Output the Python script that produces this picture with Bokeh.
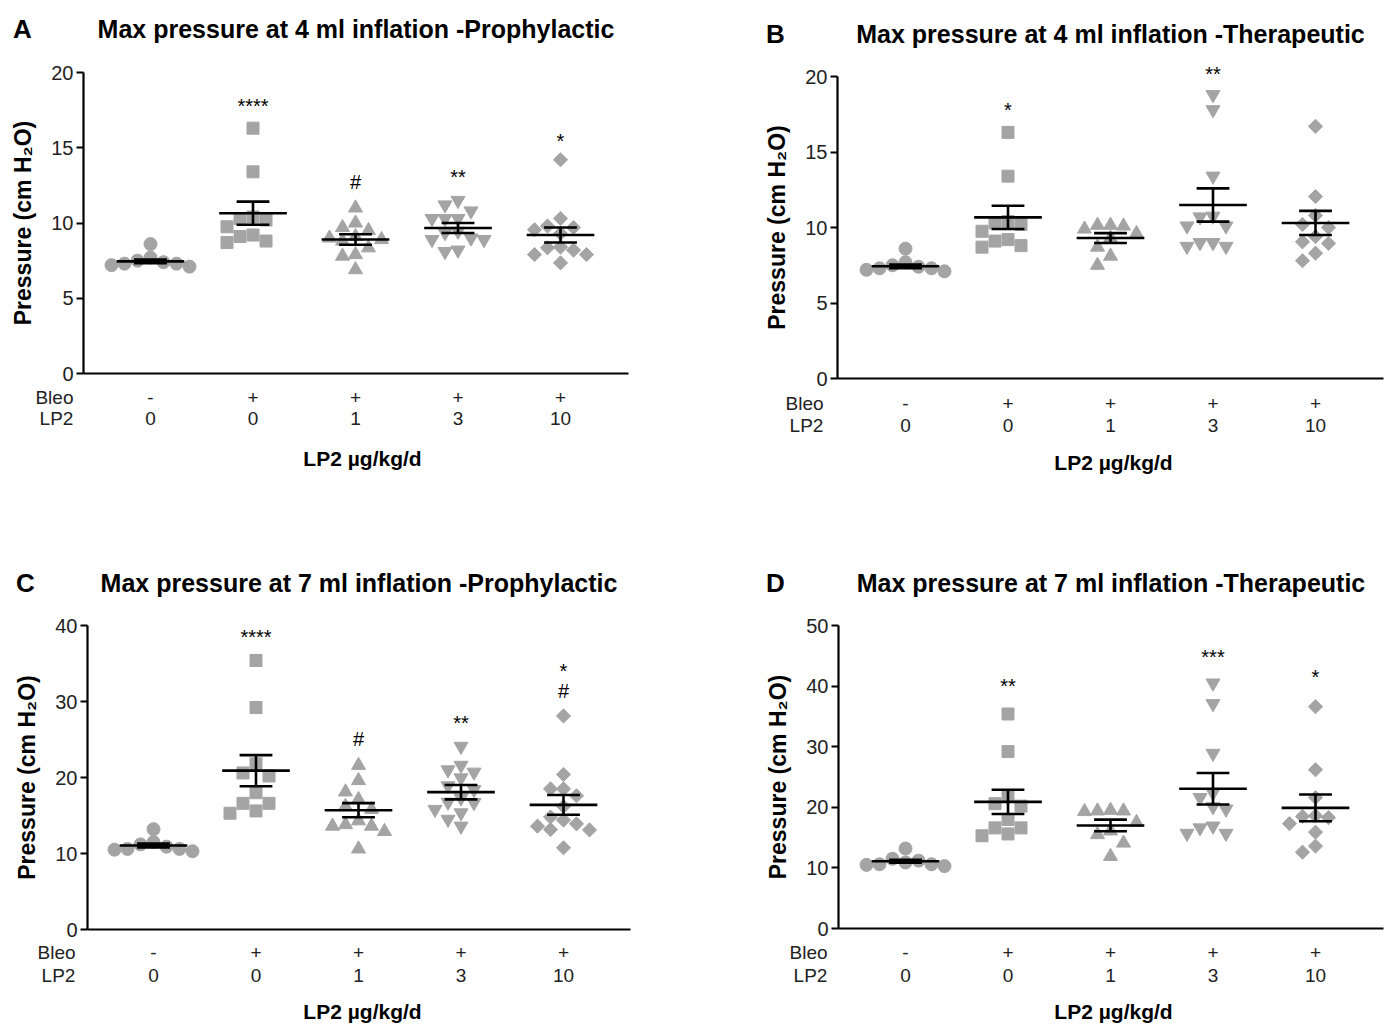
import math
from bokeh.plotting import figure
from bokeh.models import Range1d, FixedTicker, LinearAxis
from bokeh.layouts import gridplot
from bokeh.embed import file_html
from bokeh.resources import INLINE
from bokeh.core.properties import value

FONT = "Liberation Sans"
GREY = "#a4a4a4"
INK = "#222222"

# ---------------- data ----------------
bleo_row = ["-", "+", "+", "+", "+"]
lp2_row = ["0", "0", "1", "3", "10"]
row_names = ["Bleo", "LP2"]
y_label = "Pressure (cm H\u2082O)"
x_label = "LP2 \u00b5g/kg/d"

# Panel A: 4 ml, prophylactic
A_title = "Max pressure at 4 ml inflation -Prophylactic"
A_ctrl = [7.3, 7.7, 7.2, 7.5, 7.1, 7.4, 7.3, 8.6]
A_bleo = [16.3, 13.4, 10.3, 10.4, 10.2, 9.75, 9.1, 8.8, 9.2, 8.7]
A_lp2_1 = [11.0, 10.0, 9.7, 9.5, 9.1, 8.9, 8.8, 8.35, 7.9, 7.8, 6.9, 9.0]
A_lp2_3 = [11.5, 11.2, 10.8, 10.3, 10.3, 10.3, 9.45, 9.35, 9.0, 8.9, 8.9, 8.2, 8.1]
A_lp2_10 = [14.2, 10.3, 9.55, 9.8, 9.7, 8.4, 8.2, 7.9, 7.9, 8.35, 7.35, 9.3]
A_mean = [7.45, 10.65, 8.9, 9.67, 9.2]
A_sem = [0.12, 0.77, 0.35, 0.33, 0.5]
A_yticks = [0, 5, 10, 15, 20]
A_sig_group = [1, 2, 3, 4]
A_sig_text = ["****", "#", "**", "*"]
A_sig_y = [17.9, 12.7, 13.2, 15.6]

# Panel B: 4 ml, therapeutic
B_title = "Max pressure at 4 ml inflation -Therapeutic"
B_ctrl = [7.3, 7.7, 7.2, 7.5, 7.1, 7.4, 7.3, 8.6]
B_bleo = [16.3, 13.4, 10.3, 10.4, 10.2, 9.75, 9.1, 8.8, 9.2, 8.7]
B_lp2_1 = [10.15, 10.1, 10.15, 9.9, 9.6, 9.3, 8.7, 8.1, 7.5]
B_lp2_3 = [18.8, 17.8, 13.4, 10.7, 10.1, 10.1, 10.75, 8.75, 9.0, 8.75, 9.0]
B_lp2_10 = [16.7, 12.05, 10.8, 10.0, 9.4, 9.05, 8.95, 8.3, 7.8, 10.2]
B_mean = [7.43, 10.67, 9.3, 11.49, 10.3]
B_sem = [0.12, 0.77, 0.33, 1.1, 0.8]
B_yticks = [0, 5, 10, 15, 20]
B_sig_group = [1, 3]
B_sig_text = ["*", "**"]
B_sig_y = [17.9, 20.3]

# Panel C: 7 ml, prophylactic
C_title = "Max pressure at 7 ml inflation -Prophylactic"
C_ctrl = [10.6, 11.5, 10.5, 11.2, 10.3, 10.9, 10.6, 13.2]
C_bleo = [35.4, 29.2, 21.8, 20.2, 20.6, 18.0, 15.3, 16.6, 15.6, 16.6]
C_lp2_1 = [21.6, 19.6, 18.1, 17.1, 15.8, 14.3, 13.6, 13.8, 13.6, 12.9, 10.6, 16.2]
C_lp2_3 = [24.1, 21.0, 21.6, 20.7, 19.95, 17.3, 16.75, 16.7, 15.35, 15.8, 13.6, 14.5, 18.4, 18.9]
C_lp2_10 = [28.1, 20.4, 18.5, 18.5, 17.6, 16.2, 13.9, 13.6, 13.1, 13.15, 14.4, 10.75, 14.8]
C_mean = [11.05, 20.9, 15.7, 18.07, 16.4]
C_sem = [0.25, 2.05, 0.93, 0.95, 1.3]
C_yticks = [0, 10, 20, 30, 40]
C_sig_group = [1, 2, 3, 4, 4]
C_sig_text = ["****", "#", "**", "*", "#"]
C_sig_y = [38.8, 25.1, 27.4, 34.3, 31.4]

# Panel D: 7 ml, therapeutic
D_title = "Max pressure at 7 ml inflation -Therapeutic"
D_ctrl = [10.6, 11.5, 10.5, 11.2, 10.3, 10.9, 10.6, 13.2]
D_bleo = [35.4, 29.2, 21.8, 20.2, 20.6, 18.0, 15.3, 16.6, 15.6, 16.6]
D_lp2_1 = [19.4, 19.5, 19.3, 19.4, 17.5, 15.5, 14.1, 11.9, 16.1]
D_lp2_3 = [40.5, 37.1, 28.9, 22.4, 20.1, 19.7, 21.6, 15.7, 16.9, 15.7, 16.6]
D_lp2_10 = [36.6, 26.2, 21.6, 17.3, 15.9, 18.5, 18.6, 18.3, 12.6, 13.6]
D_mean = [11.1, 20.9, 17.0, 23.05, 19.9]
D_sem = [0.25, 2.0, 0.96, 2.6, 2.2]
D_yticks = [0, 10, 20, 30, 40, 50]
D_sig_group = [1, 3, 4]
D_sig_text = ["**", "***", "*"]
D_sig_y = [40.4, 45.1, 41.8]

# ---------------- layout (page pixel positions) ----------------
STEP = 102.5   # px between categories
# fl/fr: x-axis ends, ft/fb: y of top tick / of zero
# r1/r2/lab: centres of the Bleo row, LP2 row and the x-axis title; lc: x of that title
LAYOUT = {
    "A": dict(ox=0, oy=0, w=700, h=553, fl=83, fr=628, ft=72, fb=373, c0=150,
              tc=28, lx=22, ly=28, bx=54, px=56, r1=397, r2=418, lab=458, lc=362),
    "B": dict(ox=700, oy=0, w=690, h=553, fl=837, fr=1383, ft=76, fb=378, c0=905,
              tc=33, lx=775, ly=33, bx=804, px=806, r1=403, r2=425, lab=462, lc=1113),
    "C": dict(ox=0, oy=553, w=700, h=471, fl=87, fr=630, ft=625, fb=929, c0=153,
              tc=582, lx=25, ly=582, bx=56, px=58, r1=952, r2=975, lab=1011, lc=362),
    "D": dict(ox=700, oy=553, w=690, h=471, fl=838, fr=1383, ft=625, fb=928, c0=905,
              tc=582, lx=775, ly=582, bx=808, px=810, r1=952, r2=975, lab=1011, lc=1113),
}

MARKERS = ["circle", "square", "triangle", "inverted_triangle", "square"]
MSIZE = [13, 12, 14, 14, 10]
MANGLE = [0, 0, 0, 0, math.pi / 4]


def swarm(vals, ppy, size=12.5, step=13.0):
    order = sorted(range(len(vals)), key=lambda i: -vals[i])
    placed = []
    res = [0.0] * len(vals)
    for i in order:
        py = vals[i] * ppy
        chosen = 0.0
        for k in [0, -1, 1, -2, 2, -3, 3, -4, 4, -5, 5]:
            px = k * step
            if all((px - qx) ** 2 + (py - qy) ** 2 >= size ** 2 for qx, qy in placed):
                chosen = px
                break
        placed.append((chosen, py))
        res[i] = chosen
    return res


def row_axis(ticks, overrides, standoff):
    ax = LinearAxis(ticker=FixedTicker(ticks=ticks), major_label_overrides=overrides,
                    fixed_location=0)
    ax.axis_line_color = None
    ax.major_tick_line_color = None
    ax.minor_tick_line_color = None
    ax.major_tick_out = 0
    ax.major_tick_in = 0
    ax.major_label_text_font = FONT
    ax.major_label_text_font_size = "19px"
    ax.major_label_text_color = INK
    ax.major_label_standoff = standoff
    return ax


def panel(letter, title, groups, means, sems, yticks, sig_g, sig_t, sig_y):
    L = LAYOUT[letter]
    ox, oy, W, H = L["ox"], L["oy"], L["w"], L["h"]
    ymax = yticks[-1]
    ppy = (L["fb"] - L["ft"]) / ymax

    def dx(sx):
        return (sx - L["c0"]) / STEP

    def dy(sy):
        return (L["fb"] - sy) / ppy

    p = figure(width=W, height=H,
               x_range=Range1d(dx(ox), dx(ox + W)), y_range=Range1d(dy(oy + H), dy(oy)),
               output_backend="svg", toolbar_location=None,
               x_axis_type=None, y_axis_type=None,
               min_border_left=0, min_border_right=0, min_border_top=0,
               min_border_bottom=0)
    p.outline_line_color = None
    p.background_fill_color = "white"
    p.border_fill_color = "white"

    yaxis_x = dx(L["fl"])

    # y axis (fixed at the left end of the x axis)
    ya = LinearAxis(ticker=FixedTicker(ticks=yticks), axis_label=y_label,
                    bounds=(0, ymax), fixed_location=yaxis_x)
    ya.axis_line_width = 2.2
    ya.axis_line_color = "black"
    ya.major_tick_line_width = 2
    ya.major_tick_line_color = "black"
    ya.major_tick_out = 7
    ya.major_tick_in = 0
    ya.minor_tick_line_color = None
    ya.major_label_text_font = FONT
    ya.major_label_text_font_size = "20px"
    ya.major_label_text_color = INK
    ya.major_label_standoff = 3
    ya.axis_label_text_font = FONT
    ya.axis_label_text_font_size = "23px"
    ya.axis_label_text_font_style = "bold"
    ya.axis_label_text_color = "black"
    ya.axis_label_standoff = 12
    p.add_layout(ya, "left")

    # x axis line only (at y = 0)
    xl = LinearAxis(ticker=FixedTicker(ticks=[]), fixed_location=0,
                    bounds=(yaxis_x, dx(L["fr"])))
    xl.axis_line_width = 2.2
    xl.axis_line_color = "black"
    xl.major_tick_line_color = None
    xl.minor_tick_line_color = None
    p.add_layout(xl, "below")

    # category label rows under the x axis
    bpos = round(dx(L["bx"]), 3)
    ppos = round(dx(L["px"]), 3)
    p.add_layout(row_axis([bpos, 0, 1, 2, 3, 4],
                          {bpos: row_names[0], **{i: s for i, s in enumerate(bleo_row)}},
                          L["r1"] - L["fb"] - 11), "below")
    p.add_layout(row_axis([ppos, 0, 1, 2, 3, 4],
                          {ppos: row_names[1], **{i: s for i, s in enumerate(lp2_row)}},
                          L["r2"] - L["fb"] - 11), "below")

    # points
    for gi, vals in enumerate(groups):
        offs = swarm(vals, ppy)
        xs = [gi + o / STEP for o in offs]
        p.scatter(x=xs, y=vals, marker=MARKERS[gi], size=MSIZE[gi], angle=MANGLE[gi],
                  fill_color=GREY, line_color=GREY, line_width=1)

    # mean +/- SEM
    idx = list(range(len(means)))
    p.segment(x0=[i - 0.33 for i in idx], x1=[i + 0.33 for i in idx],
              y0=means, y1=means, line_color="black", line_width=2.6)
    lo = [m - s for m, s in zip(means, sems)]
    hi = [m + s for m, s in zip(means, sems)]
    p.segment(x0=idx, x1=idx, y0=lo, y1=hi, line_color="black", line_width=2.6)
    p.segment(x0=[i - 0.16 for i in idx], x1=[i + 0.16 for i in idx],
              y0=hi, y1=hi, line_color="black", line_width=2.6)
    p.segment(x0=[i - 0.16 for i in idx], x1=[i + 0.16 for i in idx],
              y0=lo, y1=lo, line_color="black", line_width=2.6)

    # significance marks
    yoff = [2 if "*" in t else 0 for t in sig_t]
    p.text(x=sig_g, y=sig_y, text=sig_t, text_align="center", text_baseline="middle",
           text_font=value(FONT), text_font_size="20px", text_color="black", y_offset=yoff)

    # title, x-axis title and panel letter
    p.text(x=[dx((L["fl"] + L["fr"]) / 2)], y=[dy(L["tc"])], text=[title],
           text_align="center", text_baseline="middle", text_font=value(FONT),
           text_font_size="25px", text_font_style="bold", text_color="black")
    p.text(x=[dx(L["lc"])], y=[dy(L["lab"])], text=[x_label],
           text_align="center", text_baseline="middle", text_font=value(FONT),
           text_font_size="21px", text_font_style="bold", text_color="black")
    p.text(x=[dx(L["lx"])], y=[dy(L["ly"])], text=[letter],
           text_align="center", text_baseline="middle", text_font=value(FONT),
           text_font_size="26px", text_font_style="bold", text_color="black")
    return p


pA = panel("A", A_title, [A_ctrl, A_bleo, A_lp2_1, A_lp2_3, A_lp2_10], A_mean, A_sem,
           A_yticks, A_sig_group, A_sig_text, A_sig_y)
pB = panel("B", B_title, [B_ctrl, B_bleo, B_lp2_1, B_lp2_3, B_lp2_10], B_mean, B_sem,
           B_yticks, B_sig_group, B_sig_text, B_sig_y)
pC = panel("C", C_title, [C_ctrl, C_bleo, C_lp2_1, C_lp2_3, C_lp2_10], C_mean, C_sem,
           C_yticks, C_sig_group, C_sig_text, C_sig_y)
pD = panel("D", D_title, [D_ctrl, D_bleo, D_lp2_1, D_lp2_3, D_lp2_10], D_mean, D_sem,
           D_yticks, D_sig_group, D_sig_text, D_sig_y)

grid = gridplot([[pA, pB], [pC, pD]], toolbar_location=None)
open("out.html", "w").write(file_html(grid, INLINE))
